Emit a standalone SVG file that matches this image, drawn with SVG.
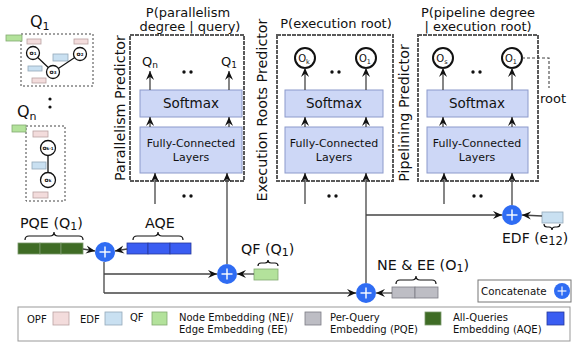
<svg xmlns="http://www.w3.org/2000/svg" width="573" height="349" viewBox="0 0 573 349">
  <style>
    text { font-family: "DejaVu Sans", Verdana, sans-serif; fill: #111; }
    .title { font-size: 13px; text-anchor: middle; }
    .side { font-size: 14.3px; text-anchor: middle; }
    .panel { fill: #fff; stroke: #5a5a5a; stroke-width: 2; stroke-dasharray: 4 1; }
    .layer { fill: #cdd7f6; stroke: #8c9acb; stroke-width: 1; }
    .sm { font-size: 13.5px; text-anchor: middle; }
    .fc { font-size: 11px; text-anchor: middle; }
    .out { fill: #fff; stroke: #111; stroke-width: 2; }
    .olab { font-size: 10px; text-anchor: middle; }
    .wire { fill: none; stroke: #444; stroke-width: 1.3; }
    .arr { fill: none; stroke: #444; stroke-width: 1.3; marker-end: url(#ah); }
    .plus { fill: #2f6cf3; }
    .pl { stroke: #fff; stroke-width: 1.4; }
    .brace { fill: none; stroke: #111; stroke-width: 1.2; }
    .lab { font-size: 14.3px; }
    .dash { fill: none; stroke: #444; stroke-width: 1.1; stroke-dasharray: 3 2; }
    .opf { fill: #f3dcdc; stroke: #b9a2a2; stroke-width: 0.8; }
    .edf { fill: #c9e0f1; stroke: #93a9b9; stroke-width: 0.8; }
    .qf { fill: #b3e29b; stroke: #83aa70; stroke-width: 0.8; }
    .ne { fill: #bdbdc4; stroke: #7c7c84; stroke-width: 0.8; }
    .pqe { fill: #3f6c25; stroke: #7c9a6c; stroke-width: 0.8; }
    .aqe { fill: #3a5df2; stroke: #26389a; stroke-width: 0.8; }
    .qn { fill: #fff; stroke: #111; stroke-width: 1.3; }
    .tiny { font-size: 6px; font-weight: bold; text-anchor: middle; }
    .leg { font-size: 10px; }
  </style>
  <defs>
    <marker id="ah" viewBox="0 0 10 10" refX="10" refY="5" markerWidth="9" markerHeight="9" markerUnits="userSpaceOnUse" orient="auto">
      <path d="M0,0.5 L10,5 L0,9.5 L3.5,5 z" fill="#111"/>
    </marker>
    <g id="plusSign">
      <circle r="10" class="plus"/>
      <line x1="-5.5" y1="0" x2="5.5" y2="0" class="pl"/>
      <line x1="0" y1="-5.5" x2="0" y2="5.5" class="pl"/>
    </g>
  </defs>

  <!-- Query Q1 with its operator graph -->
  <g id="query-q1">
    <text x="30" y="27" font-size="16">Q<tspan font-size="11" dy="3">1</tspan></text>
    <rect x="21" y="34" width="72" height="52" fill="none" stroke="#444" stroke-width="1" stroke-dasharray="2 2"/>
    <rect x="6" y="35" width="16" height="6" class="qf"/>
    <rect x="27" y="39" width="14" height="5" class="opf"/>
    <rect x="74" y="39" width="14" height="5" class="opf"/>
    <rect x="32" y="78" width="14" height="5" class="opf"/>
    <rect x="53" y="54" width="15" height="7" class="edf"/>
    <rect x="28" y="66" width="14" height="5" class="edf"/>
    <line x1="33" y1="53" x2="53" y2="72" stroke="#111" stroke-width="1.2"/>
    <line x1="53" y1="72" x2="80" y2="54" stroke="#111" stroke-width="1.2"/>
    <circle cx="33" cy="53" r="6.5" class="qn"/>
    <circle cx="80" cy="54" r="6.5" class="qn"/>
    <circle cx="53" cy="72" r="6.5" class="qn"/>
    <text x="33" y="55" class="tiny">o<tspan font-size="4">1</tspan></text>
    <text x="80" y="56" class="tiny">o<tspan font-size="4">2</tspan></text>
    <text x="53" y="74" class="tiny">o<tspan font-size="4">3</tspan></text>
  </g>

  <!-- Query Qn with its operator graph -->
  <g id="query-qn">
    <text x="17" y="117" font-size="16">Q<tspan font-size="11" dy="3">n</tspan></text>
    <circle cx="50" cy="99" r="1.6" fill="#111"/>
    <circle cx="50" cy="107" r="1.6" fill="#111"/>
    <rect x="26" y="126" width="39" height="75" fill="none" stroke="#444" stroke-width="1" stroke-dasharray="2 2"/>
    <rect x="12" y="125" width="14" height="7" class="qf"/>
    <rect x="33" y="131" width="15" height="6" class="opf"/>
    <rect x="33" y="192" width="15" height="6" class="opf"/>
    <rect x="32" y="162" width="14" height="7" class="edf"/>
    <line x1="48" y1="148" x2="48" y2="180" stroke="#111" stroke-width="1.3"/>
    <circle cx="48" cy="148" r="7.5" class="qn"/>
    <circle cx="48" cy="180" r="7.5" class="qn"/>
    <text x="48" y="150" class="tiny">o<tspan font-size="4">k-1</tspan></text>
    <text x="48" y="182" class="tiny">o<tspan font-size="4">k</tspan></text>
  </g>

  <!-- Parallelism predictor -->
  <g id="parallelism-predictor">
    <text x="188" y="17" class="title">P(parallelism</text>
    <text x="190" y="31" class="title">degree | query)</text>
    <text transform="translate(125,108) rotate(-90)" class="side">Parallelism Predictor</text>
    <rect x="130" y="35" width="114" height="146" class="panel"/>
    <rect x="140" y="90" width="102" height="27" class="layer"/>
    <text x="191" y="108" class="sm">Softmax</text>
    <rect x="140" y="127" width="102" height="46" class="layer"/>
    <text x="191" y="147" class="fc">Fully-Connected</text>
    <text x="191" y="161" class="fc">Layers</text>
    <text x="150" y="66" font-size="13" text-anchor="middle">Q<tspan font-size="9" dy="2">n</tspan></text>
    <text x="229" y="66" font-size="13" text-anchor="middle">Q<tspan font-size="9" dy="2">1</tspan></text>
    <circle cx="184" cy="72" r="1.7" fill="#111"/><circle cx="191" cy="72" r="1.7" fill="#111"/>
  </g>

  <!-- Execution roots predictor -->
  <g id="execution-roots-predictor">
    <text x="336" y="28" class="title">P(execution root)</text>
    <text transform="translate(267,110) rotate(-90)" class="side">Execution Roots Predictor</text>
    <rect x="277" y="35" width="116" height="146" class="panel"/>
    <rect x="285" y="90" width="98" height="27" class="layer"/>
    <text x="334" y="108" class="sm">Softmax</text>
    <rect x="285" y="127" width="98" height="46" class="layer"/>
    <text x="334" y="147" class="fc">Fully-Connected</text>
    <text x="334" y="161" class="fc">Layers</text>
    <circle cx="305" cy="58" r="10" class="out"/>
    <circle cx="366" cy="58" r="10" class="out"/>
    <text x="304" y="62" class="olab">O<tspan font-size="6.5" dy="1.5">k</tspan></text>
    <text x="365" y="62" class="olab">O<tspan font-size="6.5" dy="1.5">1</tspan></text>
    <circle cx="332" cy="72" r="1.7" fill="#111"/><circle cx="339" cy="72" r="1.7" fill="#111"/>
  </g>

  <!-- Pipelining predictor -->
  <g id="pipelining-predictor">
    <text x="478" y="17" class="title">P(pipeline degree</text>
    <text x="478" y="31" class="title">| execution root)</text>
    <text transform="translate(409,113) rotate(-90)" class="side">Pipelining Predictor</text>
    <rect x="418" y="35" width="120" height="146" class="panel"/>
    <rect x="427" y="90" width="101" height="27" class="layer"/>
    <text x="477" y="108" class="sm">Softmax</text>
    <rect x="427" y="127" width="101" height="46" class="layer"/>
    <text x="477" y="147" class="fc">Fully-Connected</text>
    <text x="477" y="161" class="fc">Layers</text>
    <circle cx="443" cy="58" r="10" class="out"/>
    <circle cx="512" cy="58" r="10" class="out"/>
    <text x="442" y="62" class="olab">O<tspan font-size="6.5" dy="1.5">s</tspan></text>
    <text x="511" y="62" class="olab">O<tspan font-size="6.5" dy="1.5">1</tspan></text>
    <circle cx="473" cy="72" r="1.7" fill="#111"/><circle cx="480" cy="72" r="1.7" fill="#111"/>
    <path d="M522,58 H549 V88" class="dash"/>
    <text x="540" y="103" font-size="13">root</text>
  </g>

  <!-- Embedding vectors and feature inputs -->
  <g id="pqe">
    <text x="20" y="228" class="lab">PQE (Q<tspan font-size="11" dy="2">1</tspan><tspan dy="-2">)</tspan></text>
    <path d="M25,240 Q25,236 29,236 L50,236 Q54,236 54,232 Q54,236 58,236 L79,236 Q83,236 83,240" class="brace"/>
    <rect x="18" y="243" width="22" height="11" class="pqe"/>
    <rect x="40" y="243" width="21" height="11" class="pqe"/>
    <rect x="61" y="243" width="22" height="11" class="pqe"/>
  </g>
  <g id="aqe">
    <text x="160" y="228" class="lab" text-anchor="middle">AQE</text>
    <path d="M133,240 Q133,236 137,236 L154,236 Q158,236 158,232 Q158,236 162,236 L179,236 Q183,236 183,240" class="brace"/>
    <rect x="127" y="243" width="21" height="11" class="aqe"/>
    <rect x="148" y="243" width="22" height="11" class="aqe"/>
    <rect x="170" y="243" width="21" height="11" class="aqe"/>
  </g>
  <g id="qf">
    <text x="241" y="254" class="lab">QF (Q<tspan font-size="11" dy="2">1</tspan><tspan dy="-2">)</tspan></text>
    <path d="M258,266 Q258,263 261,263 L265,263 Q268,263 268,260 Q268,263 271,263 L275,263 Q278,263 278,266" class="brace"/>
    <rect x="254" y="269" width="24" height="11" class="qf"/>
  </g>
  <g id="ne-ee">
    <text x="377" y="270" class="lab">NE &amp; EE (O<tspan font-size="11" dy="2">1</tspan><tspan dy="-2">)</tspan></text>
    <path d="M396,284 Q396,280 400,280 L412,280 Q416,280 416,276 Q416,280 420,280 L432,280 Q436,280 436,284" class="brace"/>
    <rect x="392" y="287" width="23" height="11" class="ne"/>
    <rect x="415" y="287" width="23" height="11" class="ne"/>
  </g>
  <g id="edf">
    <rect x="542" y="212" width="21" height="11" class="edf"/>
    <path d="M544,224 Q544,227 547,227 L549,227 Q552,227 552,230 Q552,227 555,227 L557,227 Q560,227 560,224" class="brace"/>
    <text x="502" y="243" font-size="14">EDF (e<tspan font-size="11.5" dy="2">12</tspan><tspan dy="-2">)</tspan></text>
  </g>

  <!-- Concatenation points -->
  <g id="concat-query"><use href="#plusSign" x="105" y="252"/></g>
  <g id="concat-qf"><use href="#plusSign" x="227" y="274"/></g>
  <g id="concat-ne"><use href="#plusSign" x="366" y="293"/></g>
  <g id="concat-edf"><use href="#plusSign" x="512" y="215"/></g>

  <!-- Connectors -->
  <g id="connectors">
    <!-- panel internals -->
    <line x1="150" y1="90" x2="150" y2="71" class="arr"/>
    <line x1="229" y1="90" x2="229" y2="71" class="arr"/>
    <line x1="150" y1="127" x2="150" y2="117" class="arr"/>
    <line x1="229" y1="127" x2="229" y2="117" class="arr"/>
    <line x1="305" y1="90" x2="305" y2="68" class="arr"/>
    <line x1="366" y1="90" x2="366" y2="68" class="arr"/>
    <line x1="305" y1="127" x2="305" y2="117" class="arr"/>
    <line x1="366" y1="127" x2="366" y2="117" class="arr"/>
    <line x1="443" y1="90" x2="443" y2="68" class="arr"/>
    <line x1="512" y1="90" x2="512" y2="68" class="arr"/>
    <line x1="443" y1="127" x2="443" y2="117" class="arr"/>
    <line x1="512" y1="127" x2="512" y2="117" class="arr"/>

    <!-- inputs entering each predictor -->
    <line x1="155" y1="204" x2="155" y2="173" class="arr"/>
    <line x1="227" y1="264" x2="227" y2="173" class="arr"/>
    <circle cx="184" cy="196" r="1.7" fill="#111"/><circle cx="191" cy="196" r="1.7" fill="#111"/>
    <line x1="305" y1="204" x2="305" y2="173" class="arr"/>
    <line x1="366" y1="283" x2="366" y2="173" class="arr"/>
    <circle cx="329" cy="196" r="1.7" fill="#111"/><circle cx="336" cy="196" r="1.7" fill="#111"/>
    <line x1="444" y1="204" x2="444" y2="173" class="arr"/>
    <line x1="512" y1="205" x2="512" y2="173" class="arr"/>
    <circle cx="474" cy="196" r="1.7" fill="#111"/><circle cx="481" cy="196" r="1.7" fill="#111"/>

    <!-- embeddings into concatenations -->
    <line x1="83" y1="249" x2="95" y2="251" class="arr"/>
    <line x1="127" y1="249" x2="115" y2="251" class="arr"/>
    <line x1="254" y1="274" x2="237" y2="274" class="arr"/>
    <line x1="392" y1="293" x2="376" y2="293" class="arr"/>
    <line x1="542" y1="216" x2="522" y2="215" class="arr"/>

    <!-- query embedding fan-out -->
    <path d="M104,262 V293" class="wire"/>
    <path d="M104,274 H217" class="arr"/>
    <path d="M104,293 H356" class="arr"/>
    <path d="M366,215 H502" class="arr"/>
  </g>

  <!-- Concatenate key -->
  <g id="concat-key">
    <rect x="478" y="280" width="93" height="22" fill="#fff" stroke="#777" stroke-width="1"/>
    <text x="481" y="295" font-size="10.3">Concatenate</text>
    <use href="#plusSign" transform="translate(562,291) scale(0.8)"/>
  </g>

  <!-- Colour legend -->
  <g id="legend">
    <rect x="18" y="307" width="552" height="34" fill="#fff" stroke="#999" stroke-width="1"/>
    <text x="27" y="323" class="leg">OPF</text>
    <rect x="53" y="312" width="16" height="13" class="opf"/>
    <text x="80" y="323" class="leg">EDF</text>
    <rect x="105" y="312" width="17" height="13" class="edf"/>
    <text x="130" y="321" class="leg">QF</text>
    <rect x="152" y="312" width="15" height="13" class="qf"/>
    <text x="179" y="321" class="leg">Node Embedding (NE)/</text>
    <text x="179" y="333" class="leg">Edge Embedding (EE)</text>
    <rect x="305" y="312" width="16" height="13" class="ne"/>
    <text x="330" y="321" class="leg">Per-Query</text>
    <text x="330" y="333" class="leg">Embedding (PQE)</text>
    <rect x="425" y="312" width="16" height="13" class="pqe"/>
    <text x="453" y="321" class="leg">All-Queries</text>
    <text x="453" y="333" class="leg">Embedding (AQE)</text>
    <rect x="547" y="312" width="17" height="13" class="aqe"/>
  </g>
</svg>
